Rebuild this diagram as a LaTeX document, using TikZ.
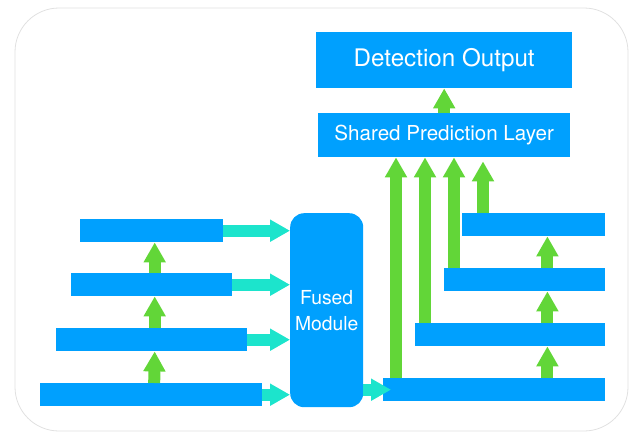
\documentclass[tikz,border=0pt]{standalone}
\usepackage{fontspec}
\setmainfont{TeX Gyre Heros}
\usetikzlibrary{arrows.meta,positioning}
\definecolor{barblue}{RGB}{0,160,254}
\definecolor{upgreen}{RGB}{98,214,56}
\definecolor{feedcyan}{RGB}{28,228,204}

\begin{document}
\begin{tikzpicture}[x=1pt,y=-1pt]
  \tikzstyle{bar}=[rectangle,fill=barblue,inner sep=0pt,anchor=north west,
                   minimum height=23pt]
  \tikzstyle{head}=[bar,text=white,font=\fontsize{20.6}{24}\selectfont]
  \tikzstyle{up}=[upgreen,line width=12pt,-{Triangle[width=21pt,length=20pt]}]
  \tikzstyle{feed}=[feedcyan,line width=12pt,-{Triangle[width=21pt,length=20pt]}]
  \useasboundingbox (0,0) rectangle (640,439);
  \draw [black!12,line width=0.8pt,rounded corners=44pt] (15,8) rectangle (628,431);
  % left pyramid
  \node [bar,minimum width=143pt] (l1) at (80,219) {};
  \node [bar,minimum width=161pt] (l2) at (71,273) {};
  \node [bar,minimum width=191pt] (l3) at (56,328) {};
  \node [bar,minimum width=222pt] (l4) at (40,383) {};
  \draw [up] ([xshift=3pt]l4.north) -- ([xshift=3pt]l3.south);
  \draw [up] ([xshift=3pt]l3.north) -- ([xshift=3pt]l2.south);
  \draw [up] ([xshift=3pt]l2.north) -- ([xshift=3pt]l1.south);
  % fusion
  \node [bar,minimum width=73pt,minimum height=194pt,rounded corners=14pt,
         text=white,align=center,font=\fontsize{19.3}{26}\selectfont]
        (fused) at (290,213) {Fused\\Module};
  \foreach \i in {1,...,4}
    \draw [feed] (l\i.east) -- (l\i.east -| fused.west);
  % right pyramid
  \node [bar,minimum width=222pt] (r4) at (383,378) {};
  \node [bar,minimum width=190pt] (r3) at (415,323) {};
  \node [bar,minimum width=161pt] (r2) at (444,268) {};
  \node [bar,minimum width=143pt] (r1) at (462,213) {};
  \draw [feed] (fused.east |- r4.west) -- ([xshift=8pt]r4.west);
  \draw [up] ([xshift=-58pt]r4.north east) -- ([xshift=-58pt]r3.south east);
  \draw [up] ([xshift=-58pt]r3.north east) -- ([xshift=-58pt]r2.south east);
  \draw [up] ([xshift=-58pt]r2.north east) -- ([xshift=-58pt]r1.south east);
  % heads
  \node [head,minimum width=252pt,minimum height=44pt] (spl) at (318,113)
        {Shared Prediction Layer};
  \node [head,minimum width=256pt,minimum height=56pt,
         font=\fontsize{24.2}{28}\selectfont] (out) at (316,32) {Detection Output};
  \draw [up] (spl.north) -- (out.south);
  \draw [up] ([xshift=13pt]r4.north west) -- ([xshift=13pt]r4.north west |- spl.south);
  \draw [up] ([xshift=10pt]r3.north west) -- ([xshift=10pt]r3.north west |- spl.south);
  \draw [up] ([xshift=10pt]r2.north west) -- ([xshift=10pt]r2.north west |- spl.south);
  \draw [up] ([xshift=21pt]r1.north west) -- ([xshift=21pt,yshift=-4pt]r1.north west |- spl.south);
\end{tikzpicture}
\end{document}
